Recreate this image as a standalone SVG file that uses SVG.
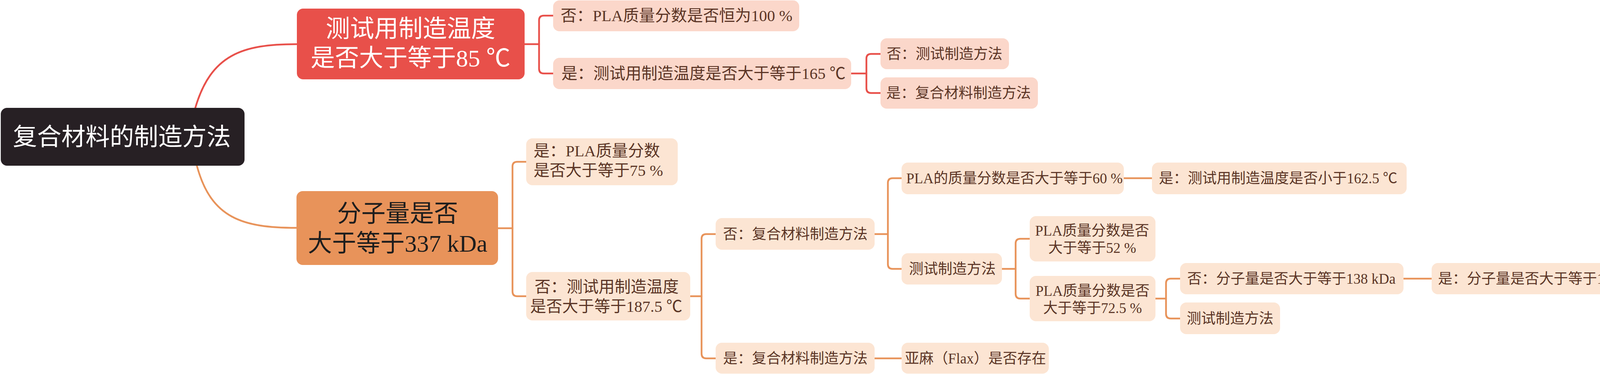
<svg xmlns="http://www.w3.org/2000/svg" width="4238" height="957" viewBox="0 0 4238 957">
<style>
text{font-family:"Liberation Serif","Noto Sans CJK SC",serif}
.c{fill:none;stroke-width:4.5;stroke-linecap:round;stroke-linejoin:round}
.cr{stroke:#E8504A}
.co{stroke:#E8935A}
.big{font-size:62px;text-anchor:middle}
.l2{font-size:41px;fill:#5B3526}
.l3{font-size:37px;fill:#5B3526}
.m{text-anchor:middle}
.rb{fill:#FBD7CA}
.ob{fill:#FCE5D3}
</style>
<rect width="4238" height="957" fill="#FFFFFF"/>
<g id="connectors">
<path class="c cr" stroke-width="5" d="M500 276 C540 140 620 113 759 113"/>
<path class="c co" stroke-width="5" d="M504 424 C540 558 620 583 759 583"/>
<path class="c cr" d="M1343 113 H1380"/>
<path class="c cr" d="M1416 40 H1392 Q1380 40 1380 52 V176 Q1380 188 1392 188 H1416"/>
<path class="c cr" d="M2179 188 H2218"/>
<path class="c cr" d="M2254 138 H2230 Q2218 138 2218 150 V226 Q2218 238 2230 238 H2254"/>
<path class="c co" d="M1275 584 H1312"/>
<path class="c co" d="M1347 414 H1324 Q1312 414 1312 426 V746 Q1312 758 1324 758 H1347"/>
<path class="c co" d="M1767 758 H1796"/>
<path class="c co" d="M1832 599 H1808 Q1796 599 1796 611 V905 Q1796 917 1808 917 H1832"/>
<path class="c co" d="M2239 599 H2273"/>
<path class="c co" d="M2308 456 H2285 Q2273 456 2273 468 V676 Q2273 688 2285 688 H2308"/>
<path class="c co" d="M2877 456 H2949"/>
<path class="c co" d="M2239 917 H2308"/>
<path class="c co" d="M2565 688 H2600"/>
<path class="c co" d="M2636 611 H2612 Q2600 611 2600 623 V752 Q2600 764 2612 764 H2636"/>
<path class="c co" d="M2958 764 H2985"/>
<path class="c co" d="M3021 713 H2997 Q2985 713 2985 725 V803 Q2985 815 2997 815 H3021"/>
<path class="c co" d="M3593 713 H3665"/>
</g>
<g id="root">
<rect x="2" y="276" width="624" height="148" rx="16" fill="#272024"/>
<text class="big" x="312" y="372" fill="#FFFFFF">复合材料的制造方法</text>
</g>
<g id="n-temp85">
<rect x="760" y="22" width="583" height="181" rx="16" fill="#E8504A"/>
<text class="big" x="1051" y="95" fill="#FFFFFF">测试用制造温度</text>
<text class="big" x="1051" y="170" fill="#FFFFFF">是否大于等于85 ℃</text>
</g>
<g id="n-mw337">
<rect x="759" y="489" width="516" height="189" rx="16" fill="#E8935A"/>
<text class="big" x="1018" y="568" fill="#1D1D1D">分子量是否</text>
<text class="big" x="1018" y="644" fill="#1D1D1D">大于等于337 kDa</text>
</g>
<g id="n-r1">
<rect class="rb" x="1416" y="1" width="630" height="79" rx="16"/>
<text class="l2 m" x="1732" y="54">否：PLA质量分数是否恒为100 %</text>
</g>
<g id="n-r2">
<rect class="rb" x="1416" y="148" width="763" height="80" rx="16"/>
<text class="l2 m" x="1801" y="202">是：测试用制造温度是否大于等于165 ℃</text>
</g>
<g id="n-r2a">
<rect class="rb" x="2254" y="98" width="329" height="79" rx="16"/>
<text class="l3 m" x="2418" y="151">否：测试制造方法</text>
</g>
<g id="n-r2b">
<rect class="rb" x="2254" y="198" width="403" height="80" rx="16"/>
<text class="l3 m" x="2454" y="251">是：复合材料制造方法</text>
</g>
<g id="n-a">
<rect class="ob" x="1347" y="354" width="388" height="120" rx="16"/>
<text class="l2" x="1366" y="400">是：PLA质量分数</text>
<text class="l2" x="1366" y="450">是否大于等于75 %</text>
</g>
<g id="n-b">
<rect class="ob" x="1347" y="696" width="420" height="124" rx="16"/>
<text class="l2 m" x="1553" y="748">否：测试用制造温度</text>
<text class="l2 m" x="1552" y="798">是否大于等于187.5 ℃</text>
</g>
<g id="n-b1">
<rect class="ob" x="1832" y="558" width="407" height="81" rx="16"/>
<text class="l3 m" x="2036" y="612">否：复合材料制造方法</text>
</g>
<g id="n-b2">
<rect class="ob" x="1832" y="877" width="407" height="79" rx="16"/>
<text class="l3 m" x="2036" y="930">是：复合材料制造方法</text>
</g>
<g id="n-c1">
<rect class="ob" x="2308" y="416" width="569" height="81" rx="16"/>
<text class="l3 m" x="2597" y="469">PLA的质量分数是否大于等于60 %</text>
</g>
<g id="n-d1">
<rect class="ob" x="2949" y="416" width="652" height="81" rx="16"/>
<text class="l3 m" x="3272" y="469">是：测试用制造温度是否小于162.5 ℃</text>
</g>
<g id="n-c2">
<rect class="ob" x="2308" y="648" width="257" height="80" rx="16"/>
<text class="l3 m" x="2438" y="701">测试制造方法</text>
</g>
<g id="n-e1">
<rect class="ob" x="2636" y="553" width="322" height="116" rx="16"/>
<text class="l3 m" x="2796" y="603">PLA质量分数是否</text>
<text class="l3 m" x="2796" y="647">大于等于52 %</text>
</g>
<g id="n-e2">
<rect class="ob" x="2636" y="706" width="322" height="116" rx="16"/>
<text class="l3 m" x="2797" y="757">PLA质量分数是否</text>
<text class="l3 m" x="2797" y="801">大于等于72.5 %</text>
</g>
<g id="n-f1">
<rect class="ob" x="3021" y="673" width="572" height="80" rx="16"/>
<text class="l3 m" x="3306" y="726">否：分子量是否大于等于138 kDa</text>
</g>
<g id="n-f2">
<rect class="ob" x="3021" y="774" width="256" height="81" rx="16"/>
<text class="l3 m" x="3149" y="828">测试制造方法</text>
</g>
<g id="n-h">
<rect class="ob" x="3665" y="673" width="570" height="80" rx="16"/>
<text class="l3 m" x="3948" y="726">是：分子量是否大于等于193 kDa</text>
</g>
<g id="n-g">
<rect class="ob" x="2308" y="877" width="377" height="79" rx="16"/>
<text class="l3 m" x="2497" y="930">亚麻（Flax）是否存在</text>
</g>
</svg>
